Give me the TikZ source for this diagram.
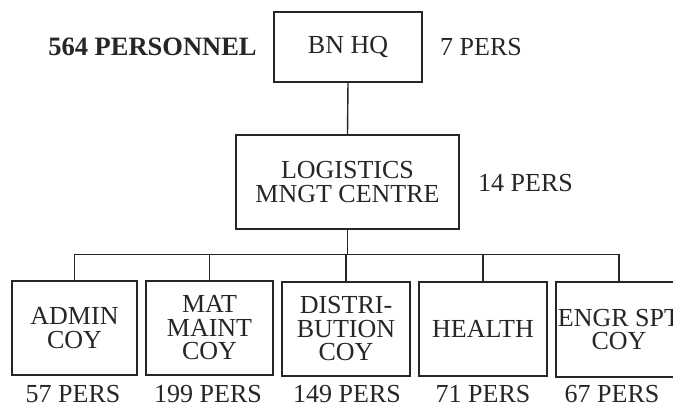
\documentclass[tikz,border=0pt]{standalone}
\usepackage{fontspec}
\setmainfont{Liberation Serif}
\definecolor{ink}{HTML}{262626}
\begin{document}
\begin{tikzpicture}[x=1pt,y=-1pt,
  every node/.style={text=ink},
  box/.style={draw=ink, line width=1.4pt, rectangle, align=center, inner sep=0pt,
    font=\fontsize{26}{23.5}\selectfont},
  lbl/.style={inner sep=0pt, font=\fontsize{26}{24}\selectfont},
  wire/.style={draw=ink, line width=1.4pt}]
\clip (0,0) rectangle (673,407);
\fill[white] (0,0) rectangle (673,407);
% boxes
\node[box, minimum width=148pt, minimum height=70pt] (bnhq) at (348,47) {BN HQ};
\node[box, minimum width=223pt, minimum height=94pt] (lmc) at (347.5,182) {LOGISTICS\\MNGT CENTRE};
\node[box, minimum width=125pt, minimum height=94pt] (admin) at (74.5,328) {ADMIN\\COY};
\node[box, minimum width=127pt, minimum height=94pt] (mat) at (209.5,328) {MAT\\MAINT\\COY};
\node[box, minimum width=128pt, minimum height=94pt] (dist) at (346,329) {DISTRI-\\BUTION\\COY};
\node[box, minimum width=128pt, minimum height=94pt] (health) at (483,329) {HEALTH};
\node[box, minimum width=126pt, minimum height=95pt] (engr) at (619,329.5) {ENGR SPT\\COY};
% labels
\node[inner sep=0pt, font=\fontsize{26.5}{28}\selectfont\bfseries] (total) at (152.5,47) {564 PERSONNEL};
\node[lbl] (p7) at (481,47) {7 PERS};
\node[lbl] (p14) at (525.5,183) {14 PERS};
\node[lbl] (p57) at (73,394) {57 PERS};
\node[lbl] (p199) at (208,394) {199 PERS};
\node[lbl] (p149) at (347,394) {149 PERS};
\node[lbl] (p71) at (483,394) {71 PERS};
\node[lbl] (p67) at (612,394) {67 PERS};
% connectors
\coordinate (bus) at (347.5,254.5);
\draw[wire] (bnhq.south) -- (lmc.north);
\draw[wire] (lmc.south) -- (bus);
\draw[wire] (admin.north) |- (bus) -| (engr.north);
\draw[wire] (mat.north) -- (mat.north |- bus);
\draw[wire] (dist.north) -- (dist.north |- bus);
\draw[wire] (health.north) -- (health.north |- bus);
\end{tikzpicture}
\end{document}
